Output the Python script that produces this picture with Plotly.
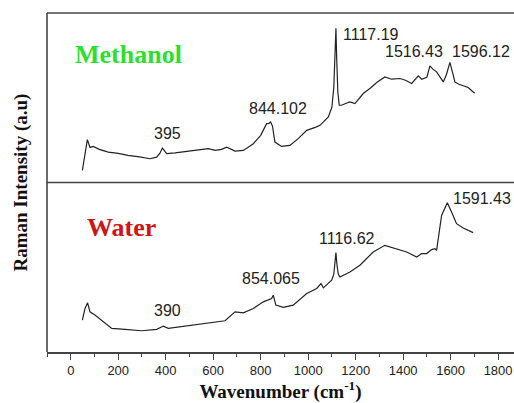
import plotly.graph_objects as go

# Methanol spectrum (top panel), intensity in arbitrary units
meth_wn = [49, 60, 70, 81, 95, 120, 158, 200, 241, 290, 334, 362, 375, 386, 395, 404,
           440, 467, 510, 551, 579, 608, 635, 657, 675, 692, 727, 769, 800, 825, 835, 842,
           850, 860, 888, 923, 958, 994, 1030, 1050, 1085, 1100, 1108, 1113, 1117, 1120,
           1125, 1131, 1141, 1160, 1176, 1197, 1232, 1260, 1290, 1323, 1352, 1387, 1410,
           1436, 1464, 1478, 1500, 1513, 1525, 1541, 1569, 1583, 1597, 1610, 1618, 1635,
           1653, 1674, 1695, 1702]
meth_int = [12, 27, 42.7, 35, 36, 33, 30.3, 29, 27, 25.5, 23.7, 25.3, 29, 34.3, 31, 28.7,
            29.5, 30.3, 31.5, 32.7, 33.7, 32, 33, 35.3, 33, 31.3, 32, 38.7, 47, 58.7, 59, 60.3,
            56, 40.3, 36, 37, 43.7, 52, 55, 57, 65.3, 75, 95, 135, 153.7, 125,
            90, 77, 77, 79, 80.3, 78.7, 88.7, 93.7, 100, 105.3, 103, 103.7, 102,
            98.7, 106.3, 103, 105, 116.3, 113, 110.3, 100.3, 108, 119.7, 108, 100.3, 98,
            96.3, 94.7, 90.3, 89.3]

# Water spectrum (bottom panel)
water_wn = [49, 60, 71, 81, 102, 130, 173, 229, 299, 362, 390, 411, 481, 551, 621, 650,
            692, 727, 769, 811, 846, 853, 864, 895, 937, 994, 1036, 1054, 1064, 1099,
            1108, 1113, 1117, 1121, 1127, 1134, 1176, 1218, 1260, 1274, 1323, 1373, 1415,
            1457, 1478, 1499, 1520, 1534, 1541, 1562, 1576, 1586, 1604, 1625, 1653, 1695]
water_int = [32, 43.7, 49.3, 40.3, 37, 32, 23.7, 22.7, 21.3, 22.7, 26, 23.7, 26, 28, 30.3, 31.3,
             40.3, 39.3, 43.7, 50.3, 53.7, 57, 47, 44.7, 47, 58.7, 63.7, 68.7, 64.3, 72,
             78, 90, 99.7, 88, 78, 75.3, 80.3, 87, 97, 100.3, 107, 103.7, 100.3,
             95.3, 98.7, 98.7, 102.7, 103.7, 102, 137, 145.3, 149.7, 140.3, 128.7, 124.3, 119.7]

# Peak labels
meth_labels = ["395", "844.102", "1117.19", "1516.43", "1596.12"]
meth_label_x = [408, 871, 1264, 1445, 1729]
meth_label_y = [49, 74, 148, 130.5, 130.5]
water_labels = ["390", "854.065", "1116.62", "1591.43"]
water_label_x = [408, 843, 1164, 1731]
water_label_y = [42, 74, 113.7, 153.7]

fig = go.Figure()
fig.add_trace(go.Scatter(x=water_wn, y=water_int, mode="lines", xaxis="x", yaxis="y",
                         line=dict(color="#222222", width=1.2), showlegend=False))
fig.add_trace(go.Scatter(x=meth_wn, y=meth_int, mode="lines", xaxis="x2", yaxis="y2",
                         line=dict(color="#222222", width=1.2), showlegend=False))

ann = []
lab_font = dict(family="Liberation Sans, Arial", size=16, color="#222222")
for t, x, y in zip(meth_labels, meth_label_x, meth_label_y):
    ann.append(dict(text=t, x=x, y=y, xref="x2", yref="y2", showarrow=False,
                    font=lab_font, xanchor="center", yanchor="middle"))
for t, x, y in zip(water_labels, water_label_x, water_label_y):
    ann.append(dict(text=t, x=x, y=y, xref="x", yref="y", showarrow=False,
                    font=lab_font, xanchor="center", yanchor="middle"))

ann.append(dict(text="<b>Methanol</b>", xref="paper", yref="paper",
                x=(73 - 47) / 467, y=(352 - 55) / 339, xanchor="left", yanchor="middle",
                showarrow=False,
                font=dict(family="Liberation Serif, Times New Roman", size=26, color="#2ee02e")))
ann.append(dict(text="<b>Water</b>", xref="paper", yref="paper",
                x=(85 - 47) / 467, y=(352 - 228) / 339, xanchor="left", yanchor="middle",
                showarrow=False,
                font=dict(family="Liberation Serif, Times New Roman", size=26, color="#d01515")))
ann.append(dict(text="<b>Raman Intensity (a.u)</b>", xref="paper", yref="paper",
                x=(20 - 47) / 467, y=0.5, xanchor="center", yanchor="middle",
                textangle=-90, showarrow=False,
                font=dict(family="Liberation Serif, Times New Roman", size=19, color="#111111")))

frame_col = "#444444"
shapes = [
    dict(type="line", xref="paper", yref="paper", x0=0, x1=0, y0=0, y1=1,
         line=dict(color=frame_col, width=1.6)),
    dict(type="line", xref="paper", yref="paper", x0=0, x1=1.02, y0=1, y1=1,
         line=dict(color=frame_col, width=1.6)),
    dict(type="line", xref="paper", yref="paper", x0=0, x1=1.02, y0=0.5, y1=0.5,
         line=dict(color=frame_col, width=1.6)),
]

fig.update_layout(
    width=514, height=403,
    margin=dict(l=47, r=0, t=13, b=51),
    paper_bgcolor="white", plot_bgcolor="white",
    xaxis=dict(domain=[0, 1], anchor="y", range=[-100, 1867], dtick=200, tick0=0,
               ticks="outside", ticklen=6, tickwidth=1.3, tickcolor=frame_col,
               showline=True, linecolor=frame_col, linewidth=1.6, showgrid=False,
               zeroline=False,
               minor=dict(dtick=100, tick0=0, ticks="outside", ticklen=3, tickcolor=frame_col),
               tickfont=dict(family="Liberation Sans, Arial", size=13, color="#222222"),
               title=dict(text="<b>Wavenumber (cm<sup>-1</sup>)</b>", standoff=9,
                          font=dict(family="Liberation Serif, Times New Roman", size=19,
                                    color="#111111"))),
    xaxis2=dict(domain=[0, 1], anchor="y2", matches="x", visible=False, showgrid=False),
    yaxis=dict(domain=[0, 0.5], range=[0, 170], visible=False, showgrid=False),
    yaxis2=dict(domain=[0.5, 1], range=[0, 169], visible=False, showgrid=False),
    annotations=ann, shapes=shapes,
)

fig.write_html("out.html")
